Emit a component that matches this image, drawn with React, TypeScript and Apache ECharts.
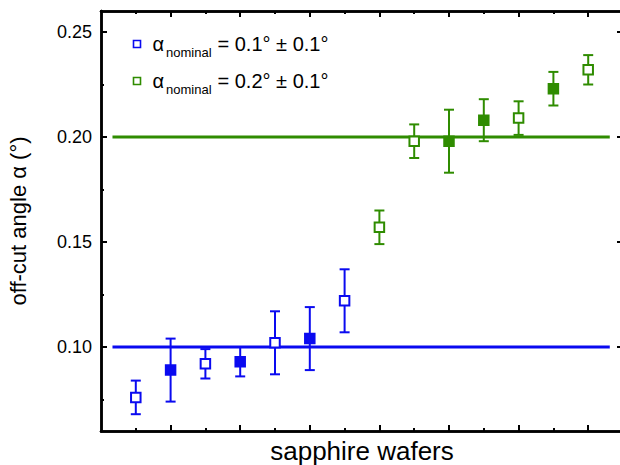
import { useEffect, useRef } from "react";
import * as echarts from "echarts";

// ---- data ----
const blueWafers = [1, 2, 3, 4, 5, 6, 7];
const blueValues = [0.076, 0.089, 0.092, 0.093, 0.102, 0.104, 0.122];
const blueErrors = [0.008, 0.015, 0.007, 0.007, 0.015, 0.015, 0.015];
const blueFilled = [false, true, false, true, false, true, false];

const greenWafers = [8, 9, 10, 11, 12, 13, 14];
const greenValues = [0.157, 0.198, 0.198, 0.208, 0.209, 0.223, 0.232];
const greenErrors = [0.008, 0.008, 0.015, 0.010, 0.008, 0.008, 0.007];
const greenFilled = [false, false, true, true, false, true, false];

const nominalBlue = 0.1;
const nominalGreen = 0.2;
const nominalLineX = [0.33, 14.62];

const yMajorTicks = [0.1, 0.15, 0.2, 0.25];
const yMinorTicks = [0.075, 0.125, 0.175, 0.225];
const xMajorTicks = [2, 4, 6, 8, 10, 12, 14];
const xMinorTicks = [1, 3, 5, 7, 9, 11, 13];

const BLUE = "#0a0af0";
const GREEN = "#2f8c00";
const FONT = "Liberation Sans, Arial, sans-serif";

function errorSeries(xs: number[], vs: number[], es: number[], color: string) {
  return {
    type: "custom",
    z: 3,
    silent: true,
    encode: { x: 0, y: [1, 2] },
    data: xs.map((x, i) => [x, vs[i] - es[i], vs[i] + es[i]]),
    renderItem: (_p: any, api: any) => {
      const x = api.value(0);
      const lo = api.coord([x, api.value(1)]);
      const hi = api.coord([x, api.value(2)]);
      const w = 5;
      const style = { stroke: color, lineWidth: 2 };
      return {
        type: "group",
        children: [
          { type: "line", shape: { x1: lo[0], y1: lo[1], x2: hi[0], y2: hi[1] }, style },
          { type: "line", shape: { x1: lo[0] - w, y1: lo[1], x2: lo[0] + w, y2: lo[1] }, style },
          { type: "line", shape: { x1: hi[0] - w, y1: hi[1], x2: hi[0] + w, y2: hi[1] }, style },
        ],
      };
    },
  };
}

function markerSeries(xs: number[], vs: number[], filled: boolean[], color: string) {
  return {
    type: "scatter",
    z: 4,
    silent: true,
    symbol: "rect",
    symbolSize: 9.5,
    data: xs.map((x, i) => ({
      value: [x, vs[i]],
      itemStyle: { color: filled[i] ? color : "#ffffff", borderColor: color, borderWidth: 2, opacity: 1 },
    })),
  };
}

function nominalLine(v: number, color: string) {
  return {
    type: "line",
    z: 2,
    silent: true,
    symbol: "none",
    lineStyle: { color, width: 3 },
    data: nominalLineX.map((x) => [x, v]),
  };
}

function xAx(position: string, ticks: number[], len: number, extra: any = {}) {
  return {
    type: "value",
    min: 0,
    max: 15,
    position,
    axisLine: { show: true, onZero: false, lineStyle: { color: "#000", width: 2.5 } },
    axisTick: { show: true, inside: true, length: len, customValues: ticks, lineStyle: { color: "#000", width: 2 } },
    axisLabel: { show: false },
    splitLine: { show: false },
    ...extra,
  };
}

function yAx(position: string, ticks: number[], len: number, extra: any = {}) {
  return {
    type: "value",
    min: 0.06,
    max: 0.26,
    position,
    axisLine: { show: true, onZero: false, lineStyle: { color: "#000", width: 2.5 } },
    axisTick: { show: true, inside: true, length: len, customValues: ticks, lineStyle: { color: "#000", width: 2 } },
    axisLabel: { show: false },
    splitLine: { show: false },
    ...extra,
  };
}

function legendItem(y: number, color: string, text: string) {
  return [
    {
      type: "rect",
      shape: { x: 133.5, y: y - 3.5, width: 7, height: 7 },
      style: { fill: "#fff", stroke: color, lineWidth: 1.6 },
    },
    {
      type: "text",
      x: 152.5,
      y: y - 0.2,
      style: { text: "α", fontSize: 20, fontFamily: FONT, fill: "#000", verticalAlign: "middle" },
    },
    {
      type: "text",
      x: 166,
      y: y + 8.2,
      style: { text: "nominal", fontSize: 13, fontFamily: FONT, fill: "#000", verticalAlign: "middle" },
    },
    {
      type: "text",
      x: 217.5,
      y: y - 0.2,
      style: { text: text, fontSize: 20, fontFamily: FONT, fill: "#000", verticalAlign: "middle" },
    },
  ];
}

export default function App() {
  const ref = useRef<HTMLDivElement>(null);
  useEffect(() => {
    if (!ref.current) return;
    const chart = echarts.init(ref.current, undefined, { renderer: "svg" });
    chart.setOption({
      animation: false,
      backgroundColor: "#ffffff",
      textStyle: { fontFamily: FONT },
      grid: { left: 101, top: 11, width: 522, height: 420, containLabel: false, outerBoundsMode: "none" },
      xAxis: [
        xAx("bottom", xMajorTicks, 6, {
          name: "sapphire wafers",
          nameLocation: "middle",
          nameGap: 7,
          nameTextStyle: { fontSize: 26, color: "#000", fontFamily: FONT, verticalAlign: "top" },
        }),
        xAx("bottom", xMinorTicks, 3),
        xAx("top", xMajorTicks, 6),
        xAx("top", xMinorTicks, 3),
      ],
      yAxis: [
        yAx("left", yMajorTicks, 6, {
          axisLabel: {
            show: true,
            customValues: yMajorTicks,
            formatter: (v: number) => v.toFixed(2),
            fontSize: 18,
            color: "#000",
            margin: 9,
            fontFamily: FONT,
          },
          name: "off-cut angle α (°)",
          nameLocation: "middle",
          nameGap: 72,
          nameTextStyle: { fontSize: 22, color: "#000", fontFamily: FONT },
        }),
        yAx("left", yMinorTicks, 3),
        yAx("right", yMajorTicks, 6),
        yAx("right", yMinorTicks, 3),
      ],
      graphic: [
        ...legendItem(44, BLUE, "= 0.1° ± 0.1°"),
        ...legendItem(81, GREEN, "= 0.2° ± 0.1°"),
      ],
      series: [
        nominalLine(nominalBlue, BLUE),
        nominalLine(nominalGreen, GREEN),
        errorSeries(blueWafers, blueValues, blueErrors, BLUE),
        errorSeries(greenWafers, greenValues, greenErrors, GREEN),
        markerSeries(blueWafers, blueValues, blueFilled, BLUE),
        markerSeries(greenWafers, greenValues, greenFilled, GREEN),
      ],
    });
    return () => chart.dispose();
  }, []);
  return (
    <div
      ref={ref}
      style={{ position: "fixed", left: 0, top: 0, width: 620, height: 465, background: "#fff" }}
    />
  );
}
